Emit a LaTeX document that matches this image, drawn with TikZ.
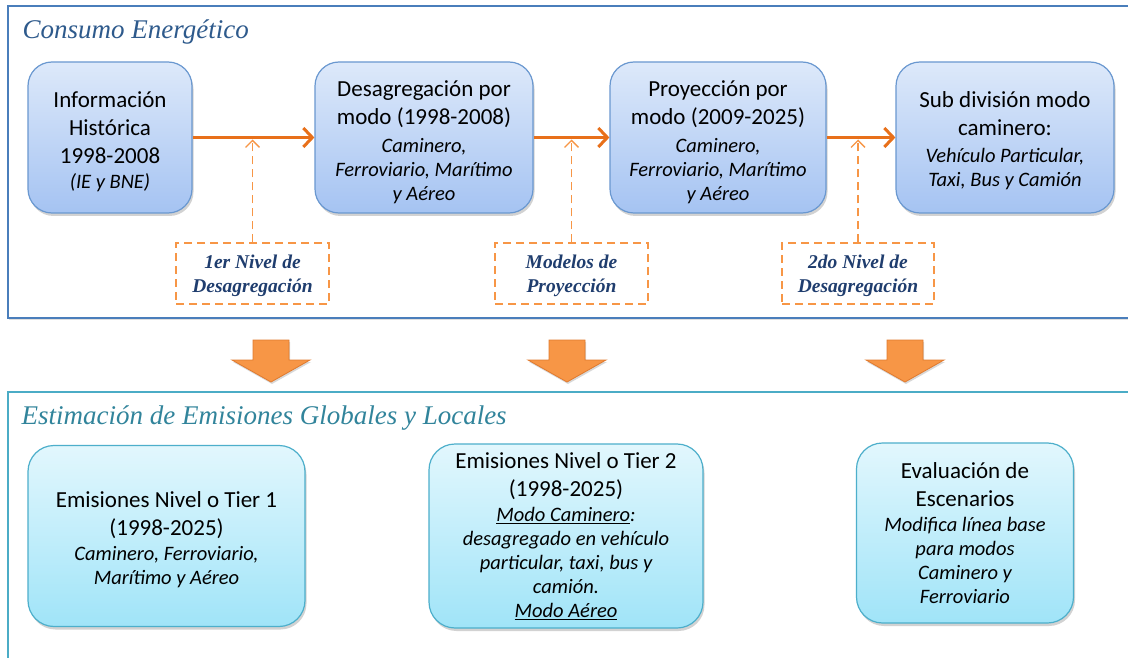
\documentclass[tikz,border=0pt]{standalone}
\usepackage{fontspec}
\setmainfont{Carlito}
\newfontfamily\serifti{Liberation Serif}
\usetikzlibrary{arrows.meta,shadows}

\definecolor{frameblue}{HTML}{4A7EBB}
\definecolor{titleblue}{HTML}{2E5A8C}
\definecolor{boxtop}{HTML}{DDE9FA}
\definecolor{boxbot}{HTML}{A5C3F2}
\definecolor{boxline}{HTML}{6A98D0}
\definecolor{flowor}{HTML}{E8701A}
\definecolor{dashor}{HTML}{F79646}
\definecolor{notetext}{HTML}{1F3D6E}
\definecolor{frameteal}{HTML}{4BACC6}
\definecolor{titleteal}{HTML}{31849B}
\definecolor{cyantop}{HTML}{E2F7FD}
\definecolor{cyanbot}{HTML}{A0E4F8}
\definecolor{cyanline}{HTML}{4DAFCB}
\definecolor{bigarrow}{HTML}{F79646}
\definecolor{bigarrowline}{HTML}{E07A2E}

\tikzset{
  stagebox/.style={draw=boxline, line width=1.2pt, rounded corners=24pt,
    top color=boxtop, bottom color=boxbot, align=center,
    font=\fontsize{23}{28}\selectfont,
    drop shadow={opacity=0.35, shadow xshift=1.5pt, shadow yshift=-3pt}},
  emisbox/.style={draw=cyanline, line width=1.2pt, rounded corners=26pt,
    top color=cyantop, bottom color=cyanbot, align=center,
    font=\fontsize{23}{28}\selectfont,
    drop shadow={opacity=0.35, shadow xshift=1.5pt, shadow yshift=-3pt}},
  notebox/.style={draw=dashor, line width=1.3pt, dash pattern=on 8pt off 5pt,
    align=center, text=notetext,
    font=\serifti\bfseries\itshape\fontsize{19.5}{24}\selectfont},
  flow/.style={draw=flowor, line width=3pt,
    -{Straight Barb[length=9pt,width=19pt,line width=3pt]}},
  notelink/.style={draw=dashor, line width=1.3pt, dash pattern=on 8pt off 5pt,
    -{Straight Barb[length=7pt,width=14pt,line width=1.3pt]}, shorten >=2pt},
  framettl/.style={anchor=base west, font=\serifti\itshape\fontsize{27}{32}\selectfont},
  downarrow/.style={fill=bigarrow, draw=bigarrowline, line width=0.8pt,
    drop shadow={opacity=0.3, shadow xshift=1pt, shadow yshift=-2pt}}
}
% italic detail lines inside the boxes
\newcommand{\sm}[1]{{\fontsize{20.5}{24}\selectfont\itshape #1}}
% extra room above the first line, lowers a text block a little
\newcommand{\lift}[1]{\rule{0pt}{#1}}

\begin{document}
\begin{tikzpicture}[x=1pt,y=-1pt]
\useasboundingbox[fill=white] (0,0) rectangle (1128,658);

% upper panel: energy consumption chain
\draw[frameblue, line width=2pt,
  drop shadow={opacity=0.25, shadow xshift=1pt, shadow yshift=-2pt}, fill=white]
  (1140,6) -- (8,6) -- (8,318) -- (1140,318);
\node[framettl, text=titleblue] (t1) at (19,39) {Consumo Energético};

\node[stagebox, minimum width=164pt, minimum height=151pt] (b1) at (110,137.5)
  {\lift{25pt}Información\\Histórica\\1998-2008\\[-3pt]\sm{(IE y BNE)}};
\node[stagebox, minimum width=218pt, minimum height=151pt] (b2) at (424,137.5)
  {\lift{25pt}Desagregación por\\modo (1998-2008)\\\sm{Caminero,}\\[-4pt]\sm{Ferroviario, Marítimo}\\[-4pt]\sm{y Aéreo}};
\node[stagebox, minimum width=216pt, minimum height=151pt] (b3) at (718,137.5)
  {\lift{25pt}Proyección por\\modo (2009-2025)\\\sm{Caminero,}\\[-4pt]\sm{Ferroviario, Marítimo}\\[-4pt]\sm{y Aéreo}};
\node[stagebox, minimum width=218pt, minimum height=151pt] (b4) at (1005,137.5)
  {\lift{23pt}Sub división modo\\caminero:\\[-1pt]\sm{Vehículo Particular,}\\[-4pt]\sm{Taxi, Bus y Camión}};

\draw[flow] (b1.east) -- (b2.west);
\draw[flow] (b2.east) -- (b3.west);
\draw[flow] (b3.east) -- (b4.west);

\node[notebox, minimum width=153pt, minimum height=61pt] (d1) at (252.5,273.5)
  {\lift{19pt}1er Nivel de\\Desagregación};
\node[notebox, minimum width=153pt, minimum height=61pt] (d2) at (571.5,273.5)
  {\lift{19pt}Modelos de\\Proyección};
\node[notebox, minimum width=152pt, minimum height=61pt] (d3) at (858,273.5)
  {\lift{19pt}2do Nivel de\\Desagregación};

\draw[notelink] (d1.north) -- (d1.north |- b1.east);
\draw[notelink] (d2.north) -- (d2.north |- b2.east);
\draw[notelink] (d3.north) -- (d3.north |- b3.east);

% block arrows between the panels
\foreach \cx in {271,567,905}{
  \draw[downarrow] (\cx-18,340) -- (\cx+18,340) -- (\cx+18,360) -- (\cx+39,360)
    -- (\cx,382) -- (\cx-39,360) -- (\cx-18,360) -- cycle;
}

% lower panel: emissions estimation
\draw[frameteal, line width=2pt] (1140,392) -- (8,392) -- (8,670);
\node[framettl, text=titleteal] (t2) at (18,424) {Estimación de Emisiones Globales y Locales};

\node[emisbox, minimum width=277pt, minimum height=181pt] (e1) at (166.5,536)
  {\lift{23pt}Emisiones Nivel o Tier 1\\(1998-2025)\\[-3pt]\sm{Caminero, Ferroviario,}\\[-4pt]\sm{Marítimo y Aéreo}};
\node[emisbox, minimum width=274pt, minimum height=184pt] (e2) at (566,536)
  {Emisiones Nivel o Tier 2\\(1998-2025)\\[-3pt]\sm{\underline{Modo Caminero}:}\\[-4pt]\sm{desagregado en vehículo}\\[-4pt]\sm{particular, taxi, bus y}\\[-4pt]\sm{camión.}\\[-4pt]\sm{\underline{Modo Aéreo}}};
\node[emisbox, minimum width=217pt, minimum height=180pt] (e3) at (965,533)
  {Evaluación de\\Escenarios\\[-3pt]\sm{Modifica línea base}\\[-4pt]\sm{para modos}\\[-4pt]\sm{Caminero y}\\[-4pt]\sm{Ferroviario}};
\end{tikzpicture}
\end{document}
